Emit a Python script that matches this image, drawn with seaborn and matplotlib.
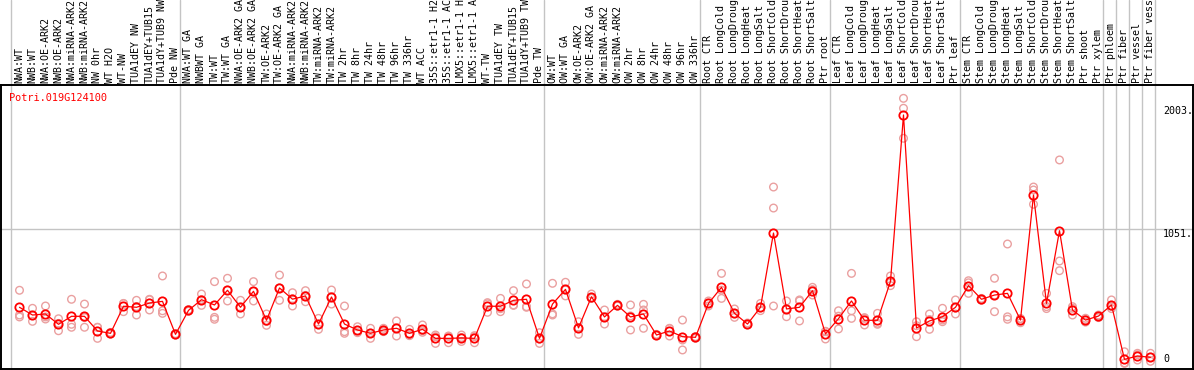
import numpy as np
import pandas as pd
import matplotlib
matplotlib.use("Agg")
import matplotlib.pyplot as plt
import seaborn as sns

categories = [
    "NWA:WT", "NWB:WT", "NWA:OE-ARK2", "NWB:OE-ARK2", "NWA:miRNA-ARK2", "NWB:miRNA-ARK2",
    "NW 0hr", "WT H2O", "WT-NW", "TUA1dEY NW", "TUA1dEY+TUB15", "TUA1dY+TUB9 NW", "Pde NW",
    "NWA:WT GA", "NWBWT GA", "TW:WT", "TW:WT GA", "NWA:OE-ARK2 GA", "NWB:OE-ARK2 GA",
    "TW:OE-ARK2", "TW:OE-ARK2 GA", "NWA:miRNA-ARK2", "NWB:miRNA-ARK2", "TW:miRNA-ARK2",
    "TW:miRNA-ARK2", "TW 2hr", "TW 8hr", "TW 24hr", "TW 48hr", "TW 96hr", "TW 336hr",
    "WT ACC", "35S::etr1-1 H2O", "35S::etr1-1 ACC", "LMX5::etr1-1 H2O", "LMX5::etr1-1 ACC",
    "WT-TW", "TUA1dEY TW", "TUA1dEY+TUB15", "TUA1dY+TUB9 TW", "Pde TW",
    "OW:WT", "OW:WT GA", "OW:OE-ARK2", "OW:OE-ARK2 GA", "OW:miRNA-ARK2", "OW:miRNA-ARK2",
    "OW 2hr", "OW 8hr", "OW 24hr", "OW 48hr", "OW 96hr", "OW 336hr",
    "Root CTR", "Root LongCold", "Root LongDrought", "Root LongHeat", "Root LongSalt",
    "Root ShortCold", "Root ShortDrought", "Root ShortHeat", "Root ShortSalt", "Ptr root",
    "Leaf CTR", "Leaf LongCold", "Leaf LongDrought", "Leaf LongHeat", "Leaf LongSalt",
    "Leaf ShortCold", "Leaf ShortDrought", "Leaf ShortHeat", "Leaf ShortSalt", "Ptr leaf",
    "Stem CTR", "Stem LongCold", "Stem LongDrought", "Stem LongHeat", "Stem LongSalt",
    "Stem ShortCold", "Stem ShortDrought", "Stem ShortHeat", "Stem ShortSalt",
    "Ptr shoot", "Ptr xylem", "Ptr phloem", "Ptr fiber", "Ptr vessel", "Ptr fiber vessel",
]

means = [
    440, 380, 388, 308, 370, 370, 256, 238, 448, 440, 473, 486, 230,
    416, 499, 458, 572, 440, 564, 339, 590, 503, 528, 310, 520, 310,
    264, 238, 264, 277, 238, 269, 199, 199, 202, 199, 448, 448, 494,
    502, 199, 465, 579, 280, 522, 365, 455, 365, 388, 225, 256, 212,
    207, 470, 595, 393, 310, 440, 1016, 427, 440, 569, 233, 352, 489,
    339, 339, 641, 1932, 279, 334, 367, 440, 608, 502, 535, 548, 341,
    1311, 470, 1034, 419, 341, 372, 458, 36, 62, 52,
]

rep1 = [
    572, 432, 450, 351, 502, 465, 285, 245, 470, 494, 502, 683, 230,
    416, 543, 639, 665, 494, 639, 388, 690, 553, 569, 354, 574, 450,
    289, 277, 277, 334, 269, 303, 225, 217, 225, 220, 476, 509, 569,
    621, 243, 626, 634, 328, 543, 419, 463, 458, 463, 225, 277, 341,
    212, 489, 703, 427, 305, 470, 1373, 489, 497, 595, 251, 413, 703,
    354, 393, 683, 2061, 328, 388, 432, 497, 646, 502, 665, 931, 320,
    1373, 548, 1583, 445, 355, 380, 497, 95, 83, 83,
]
rep2 = [
    380, 331, 349, 258, 308, 285, 199, 232, 406, 380, 419, 413, 225,
    410, 455, 362, 489, 388, 489, 300, 494, 450, 483, 269, 465, 251,
    243, 199, 251, 217, 225, 258, 160, 165, 175, 165, 401, 406, 458,
    445, 160, 380, 528, 230, 510, 310, 450, 264, 419, 220, 217, 109,
    200, 450, 509, 362, 318, 414, 1210, 367, 334, 535, 194, 272, 413,
    303, 316, 608, 1984, 212, 269, 328, 388, 548, 495, 406, 347, 350,
    1350, 445, 799, 380, 325, 360, 430, 5, 31, 21,
]
rep3 = [
    365, 377, 365, 315, 285, 360, 284, 238, 468, 446, 498, 393, 235,
    422, 499, 347, 572, 440, 564, 330, 590, 505, 532, 307, 521, 238,
    260, 238, 264, 280, 220, 246, 212, 215, 206, 212, 467, 429, 455,
    440, 194, 389, 575, 282, 513, 366, 452, 373, 277, 230, 274, 186,
    209, 471, 573, 390, 307, 436, 450, 425, 489, 577, 254, 371, 354,
    360, 308, 632, 1751, 297, 345, 341, 435, 630, 509, 534, 366, 353,
    1239, 430, 724, 432, 343, 376, 447, 8, 72, 52,
]

group_ends = [12, 40, 52, 62, 72, 83, 84, 85, 86, 87]
gene = "Potri.019G124100"
tick_values = [0, 1051, 2003]
tick_labels = ["0", "1051.", "2003."]

sns.set_theme(style="white")
plt.rcParams["font.family"] = ["DejaVu Sans Mono", "DejaVu Sans"]

W, H = 1194, 370
fig = plt.figure(figsize=(W / 100, H / 100), dpi=100)
ax_top_px, ax_bot_px = 85, 368.5
ax = fig.add_axes([1 / W, (H - ax_bot_px) / H, 1192 / W, (ax_bot_px - ax_top_px) / H])

x = np.arange(len(categories))
reps = pd.DataFrame({"x": np.tile(x, 3), "value": rep1 + rep2 + rep3})
mean_df = pd.DataFrame({"x": x, "value": means})

grey = "#c4c4c4"
ext = 1 + ax_top_px / (ax_bot_px - ax_top_px)
ax.axvline(-0.65, ymin=0, ymax=ext, color=grey, lw=1.0, clip_on=False, zorder=0)
for e in group_ends:
    ax.axvline(e + 0.37, ymin=0, ymax=ext, color=grey, lw=1.0, clip_on=False, zorder=0)
ax.axhline(1051, color=grey, lw=1.0, zorder=0)

sns.scatterplot(data=reps, x="x", y="value", ax=ax, marker="o", s=30,
                color="#eaa0a0", linewidth=1.0, zorder=2, legend=False)
for coll in ax.collections:
    coll.set_facecolor("none")
    coll.set_edgecolor("#eaa0a0")

sns.lineplot(data=mean_df, x="x", y="value", ax=ax, color="red", lw=0.9,
             marker="o", markersize=6.0, markerfacecolor="none",
             markeredgecolor="red", markeredgewidth=1.3, zorder=3)

ax.set_xlim(-1.423, 90.27)
ax.set_ylim(-34.9, 2164.5)
ax.set_xticks(x)
ax.set_xticklabels(categories, rotation=90, fontsize=7.2)
ax.xaxis.tick_top()
ax.tick_params(axis="x", length=0, pad=1.2, top=True, labeltop=True,
               bottom=False, labelbottom=False, colors="black")
ax.set_yticks([])
ax.set_xlabel("")
ax.set_ylabel("")
for sp in ax.spines.values():
    sp.set_color("black")
    sp.set_linewidth(1.4)
    sp.set_visible(True)

ytr = ax.get_yaxis_transform()
for v, lab in zip(tick_values, tick_labels):
    ax.text(0.9748, v, lab, transform=ytr, fontsize=7.2, color="black",
            ha="left", va="bottom" if v == 0 else "top")

ax.text(0.0067, 0.955, gene, transform=ax.transAxes, fontsize=7.4, color="red",
        ha="left", va="center")

fig.savefig("out.png", dpi=100)
